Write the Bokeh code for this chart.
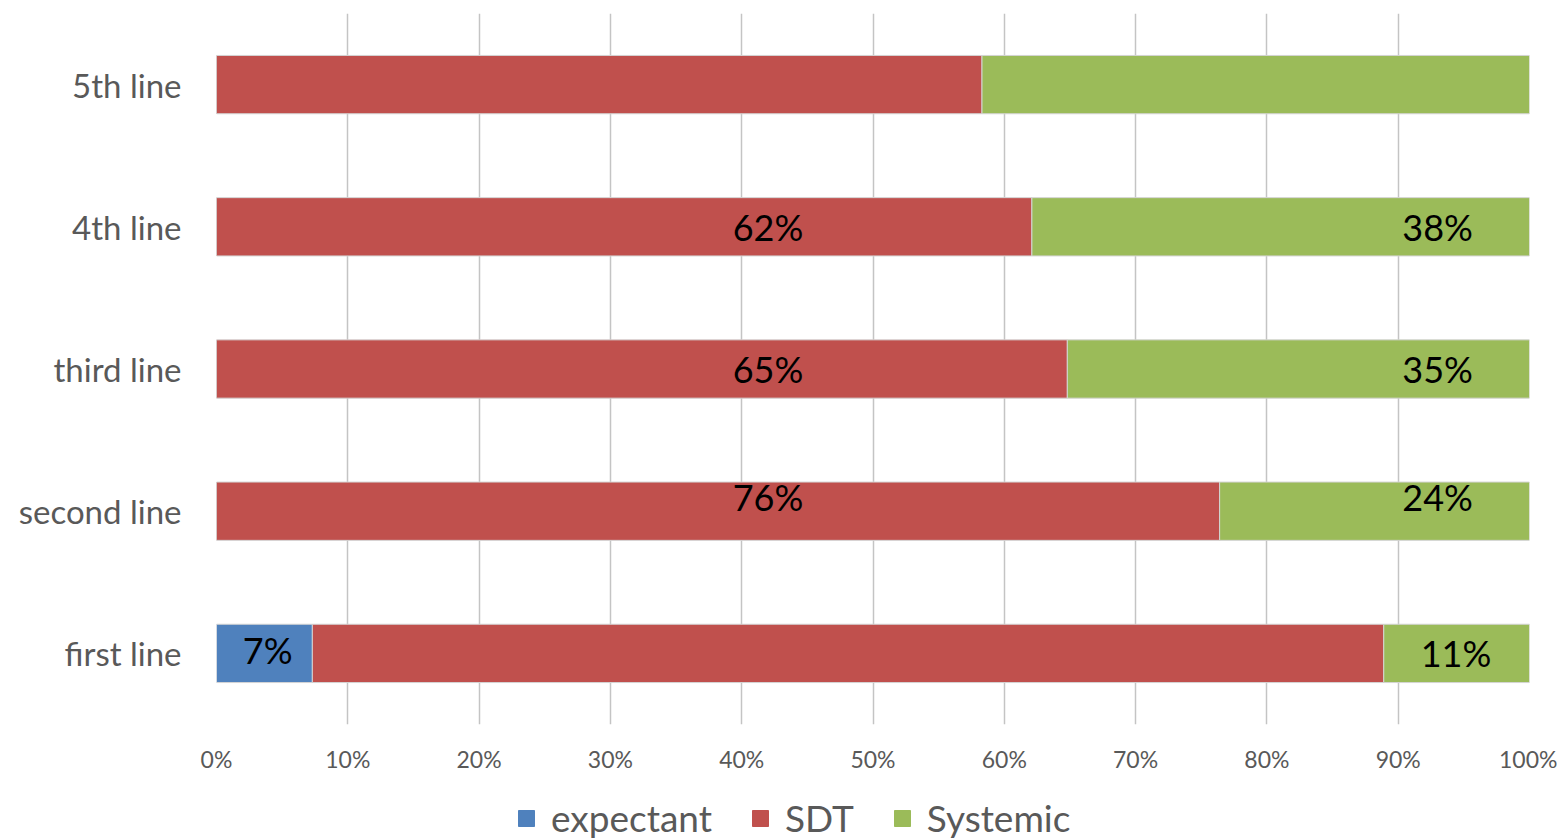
from bokeh.plotting import figure
from bokeh.layouts import column
from bokeh.models import ColumnDataSource, FactorRange, Range1d, Legend, LegendItem, NumeralTickFormatter, FixedTicker
from bokeh.core.properties import value
from bokeh.embed import file_html
from bokeh.resources import INLINE

# categories from bottom to top
lines = ["first line", "second line", "third line", "4th line", "5th line"]
expectant = [0.073, 0.0, 0.0, 0.0, 0.0]
sdt = [0.816, 0.764, 0.648, 0.621, 0.583]
systemic = [0.111, 0.236, 0.352, 0.379, 0.417]

# data labels shown on the bars
lbl_line = ["first line", "first line", "second line", "second line",
            "third line", "third line", "4th line", "4th line"]
lbl_text = ["7%", "11%", "76%", "24%", "65%", "35%", "62%", "38%"]

FONT = "Lato"
GREY = "#595959"
colors = ["#4f81bd", "#c0504d", "#9bbb59"]
names = ["expectant", "SDT", "Systemic"]

source = ColumnDataSource(data=dict(line=lines, expectant=expectant, SDT=sdt, Systemic=systemic))

p = figure(width=1557, height=784, y_range=FactorRange(factors=lines, range_padding=0),
           x_range=Range1d(0, 1), output_backend="svg", toolbar_location=None,
           min_border_left=216, min_border_right=28, min_border_top=13, min_border_bottom=60)
p.outline_line_color = None

p.hbar_stack(names, y="line", height=0.41, color=colors, source=source,
             line_color="#d4d4d4", line_width=1)

# label anchors (fraction of the axis) and pixel nudges, as placed in the original
anchor_x = [0.039, 0.944, 0.42, 0.93, 0.42, 0.93, 0.42, 0.93]
nudge_y = [-3, 0, -14, -14, 0, 0, 0, 0]
lsrc = ColumnDataSource(data=dict(x=anchor_x, y=lbl_line, t=lbl_text, dy=nudge_y))
p.text(x="x", y="y", text="t", y_offset="dy", source=lsrc, text_align="center",
       text_baseline="middle", text_font=value(FONT), text_font_size="36px", text_color="black")

p.xaxis.ticker = FixedTicker(ticks=[i / 10 for i in range(11)])
p.xaxis.formatter = NumeralTickFormatter(format="0%")
p.xaxis.axis_line_color = None
p.xaxis.major_tick_line_color = None
p.xaxis.minor_tick_line_color = None
p.xaxis.major_label_standoff = 14
p.xaxis.major_label_text_font = FONT
p.xaxis.major_label_text_font_size = "23px"
p.xaxis.major_label_text_color = GREY

p.yaxis.axis_line_color = None
p.yaxis.major_tick_line_color = None
p.yaxis.major_label_standoff = 29
p.yaxis.major_label_text_font = FONT
p.yaxis.major_label_text_font_size = "33px"
p.yaxis.major_label_text_color = GREY

p.xgrid.grid_line_color = "#c4c4c4"
p.xgrid.grid_line_width = 1.5
p.ygrid.grid_line_color = None

# legend strip under the chart; hidden copies of the bars give the swatch styles
leg = figure(width=1557, height=56, x_range=Range1d(-2, -1),
             y_range=FactorRange(factors=lines), output_backend="svg", toolbar_location=None,
             min_border_left=0, min_border_right=0, min_border_top=0, min_border_bottom=0)
leg.axis.visible = False
leg.grid.visible = False
leg.outline_line_color = None
swatches = leg.hbar_stack(names, y="line", height=0.41, color=colors, source=source)
for r in swatches:
    r.visible = False

legend = Legend(items=[LegendItem(label=n, renderers=[r]) for n, r in zip(names, swatches)],
                orientation="horizontal", location=(300, 0))
legend.label_text_font = FONT
legend.label_text_font_size = "37px"
legend.label_text_color = GREY
legend.glyph_width = 20
legend.glyph_height = 20
legend.label_standoff = 15
legend.spacing = 38
legend.border_line_color = None
legend.background_fill_alpha = 0
legend.margin = 0
legend.padding = 4
leg.add_layout(legend)

page = column(p, leg, spacing=0)
open("out.html", "w").write(file_html(page, INLINE))
